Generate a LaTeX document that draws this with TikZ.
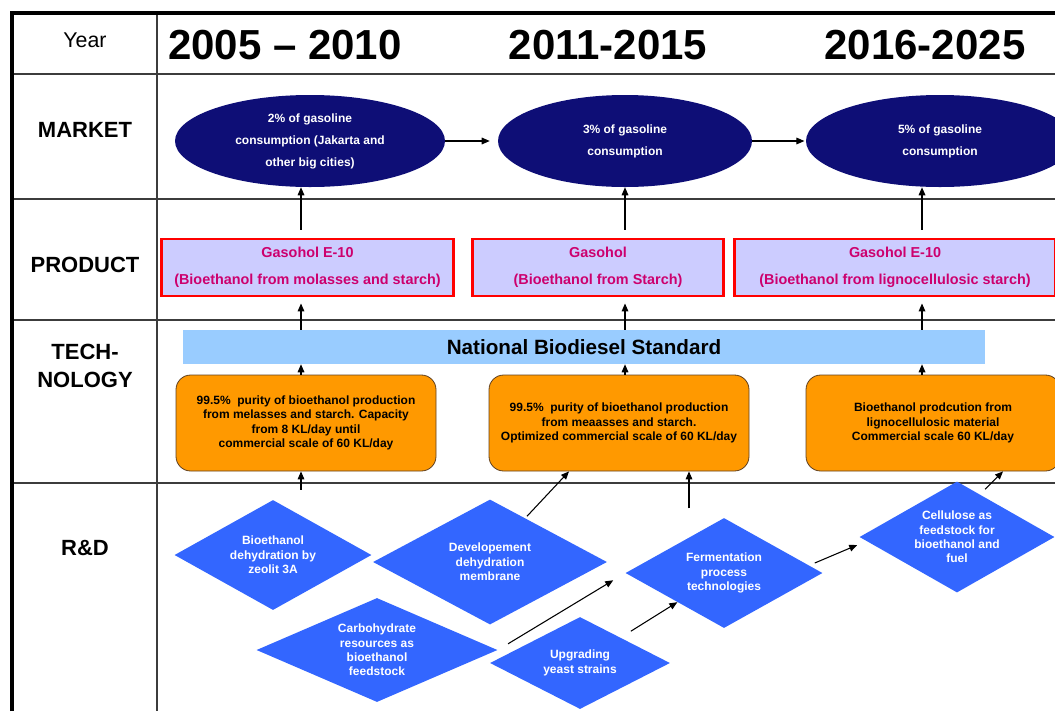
\documentclass[tikz,border=0pt]{standalone}
\usepackage{fontspec}
\setmainfont{Liberation Sans}
\usetikzlibrary{shapes.geometric,arrows.meta}

\definecolor{navy}{RGB}{14,14,118}
\definecolor{lavender}{RGB}{204,204,255}
\definecolor{rose}{RGB}{204,0,110}
\definecolor{sky}{RGB}{153,204,255}
\definecolor{amber}{RGB}{255,153,0}
\definecolor{royal}{RGB}{51,102,255}
\definecolor{gridline}{RGB}{60,60,60}

\def\px{0.75pt}

\tikzset{
	grid/.style={draw=gridline, line width=1.1pt},
	frame/.style={draw=black, line width=2.4pt},
	rowlabel/.style={align=center, font={\fontsize{16.5}{21}\selectfont\bfseries}},
	period/.style={font={\fontsize{31.5}{34}\selectfont\bfseries}},
	market/.style={ellipse, fill=navy, text=white, align=center, inner sep=0pt,
		minimum height=92*\px, font={\fontsize{9}{16.5}\selectfont\bfseries}},
	product/.style={rectangle, draw=red, line width=2.2pt, fill=lavender, text=rose,
		align=center, minimum height=57*\px, font={\fontsize{10.8}{20}\selectfont\bfseries}},
	standard/.style={rectangle, fill=sky, minimum width=802*\px, minimum height=34*\px,
		font={\fontsize{15.5}{18}\selectfont\bfseries}},
	tech/.style={rectangle, rounded corners=11pt, draw=brown!50!black, line width=0.6pt,
		fill=amber, align=center, minimum height=96*\px,
		font={\fontsize{9}{10.7}\selectfont\bfseries}},
	rnd/.style={diamond, fill=royal, text=white, align=center, inner sep=0pt,
		shape aspect=1.9, font={\fontsize{9}{10.8}\selectfont\bfseries}},
	arr/.style={-{Triangle[length=6pt,width=5pt]}, line width=0.8pt},
}

\begin{document}
\begin{tikzpicture}[x=\px, y=-\px]
	\useasboundingbox (0,0) rectangle (1055,711);
	\clip (0,0) rectangle (1055,711);

	% table grid
	\draw[grid] (157,13) -- (157,711);
	\draw[grid] (12,74) -- (1055,74);
	\draw[grid] (12,199) -- (1055,199);
	\draw[grid] (12,320) -- (1055,320);
	\draw[grid] (12,483) -- (1055,483);
	\draw[frame] (12,711) -- (12,13) -- (1055,13);

	% row titles
	\node[font={\fontsize{16}{20}\selectfont}] (year) at (85,40) {Year};
	\node[rowlabel] (market) at (85,130) {MARKET};
	\node[rowlabel] (product) at (85,265) {PRODUCT};
	\node[rowlabel] (technology) at (85,366) {TECH-\\NOLOGY};
	\node[rowlabel] (research) at (85,548) {R\&D};

	% periods
	\node[period] (y1) at (285,45) {2005 -- 2010};
	\node[period] (y2) at (608,45) {2011-2015};
	\node[period] (y3) at (925,45) {2016-2025};

	% market
	\node[market, minimum width=270*\px] (m1) at (310,141) {2\% of gasoline\\consumption (Jakarta and\\other big cities)};
	\node[market, minimum width=254*\px] (m2) at (625,141) {3\% of gasoline\\consumption};
	\node[market, minimum width=268*\px] (m3) at (940,141) {5\% of gasoline\\consumption};

	% product
	\node[product, minimum width=292*\px] (p1) at (307.5,267.5) {Gasohol E-10\\(Bioethanol from molasses and starch)};
	\node[product, minimum width=251*\px] (p2) at (598,267.5) {Gasohol\\(Bioethanol from Starch)};
	\node[product, minimum width=321*\px] (p3) at (895,267.5) {Gasohol E-10\\(Bioethanol from lignocellulosic starch)};

	% technology
	\node[standard] (nbs) at (584,347) {National Biodiesel Standard};
	\node[tech, minimum width=260*\px] (t1) at (306,423) {99.5\%~ purity of bioethanol production\\from melasses and starch. Capacity\\from 8 KL/day until\\commercial scale of 60 KL/day};
	\node[tech, minimum width=260*\px] (t2) at (619,423) {99.5\%~ purity of bioethanol production\\from meaasses and starch.\\Optimized commercial scale of 60 KL/day};
	\node[tech, minimum width=254*\px] (t3) at (933,423) {Bioethanol prodcution from\\lignocellulosic material\\Commercial scale 60 KL/day};

	% research and development
	\node[rnd, minimum width=197*\px, minimum height=110*\px] (r1) at (273,555) {Bioethanol\\dehydration by\\zeolit 3A};
	\node[rnd, minimum width=234*\px, minimum height=125*\px] (r2) at (490,562) {Developement\\dehydration\\membrane};
	\node[rnd, minimum width=241*\px, minimum height=104*\px] (r3) at (377,650) {Carbohydrate\\resources as\\bioethanol\\feedstock};
	\node[rnd, minimum width=180*\px, minimum height=92*\px] (r4) at (580,663) {Upgrading\\yeast strains};
	\node[rnd, minimum width=197*\px, minimum height=110*\px] (r5) at (724,573) {Fermentation\\process\\technologies};
	\node[rnd, minimum width=195*\px, minimum height=111*\px] (r6) at (957,537) {Cellulose as\\feedstock for\\bioethanol and\\fuel};

	% columns of the vertical arrows
	\coordinate (a1) at (301,0);
	\coordinate (a2) at (625,0);
	\coordinate (a3) at (922,0);
	\coordinate (a4) at (689,0);

	\draw[arr, shorten >=6pt] (m1.east) -- (m2.west);
	\draw[arr, shorten >=1pt] (m2.east) -- (m3.west);

	\draw[arr, shorten <=6pt] (a1 |- p1.north) -- (a1 |- m1.south);
	\draw[arr, shorten <=6pt] (a2 |- p2.north) -- (a2 |- m2.south);
	\draw[arr, shorten <=6pt] (a3 |- p3.north) -- (a3 |- m3.south);
	\draw[arr, shorten >=4.5pt] (a1 |- nbs.north) -- (a1 |- p1.south);
	\draw[arr, shorten >=4.5pt] (a2 |- nbs.north) -- (a2 |- p2.south);
	\draw[arr, shorten >=4.5pt] (a3 |- nbs.north) -- (a3 |- p3.south);
	\draw[arr] (a1 |- t1.north) -- (a1 |- nbs.south);
	\draw[arr] (a2 |- t2.north) -- (a2 |- nbs.south);
	\draw[arr] (a3 |- t3.north) -- (a3 |- nbs.south);

	\draw[arr, shorten <=7.5pt] (a1 |- r1.north) -- (a1 |- t1.south);
	\draw[arr] ([shift={(37,17)}]r2.north) -- ([shift={(-50,0)}]t2.south);
	\draw[arr, shorten <=7pt] (a4 |- r5.north) -- (a4 |- t2.south);
	\draw[arr] ([shift={(28,8)}]r6.north) -- ([shift={(70,0)}]t3.south);
	\draw[arr, shorten <=9pt, shorten >=10.5pt] (r3.east) -- (r5.west);
	\draw[arr, shorten <=9pt] (r4) -- (r5);
	\draw[arr] ([shift={(-8,-10)}]r5.east) -- ([shift={(-2,8)}]r6.west);
\end{tikzpicture}
\end{document}
